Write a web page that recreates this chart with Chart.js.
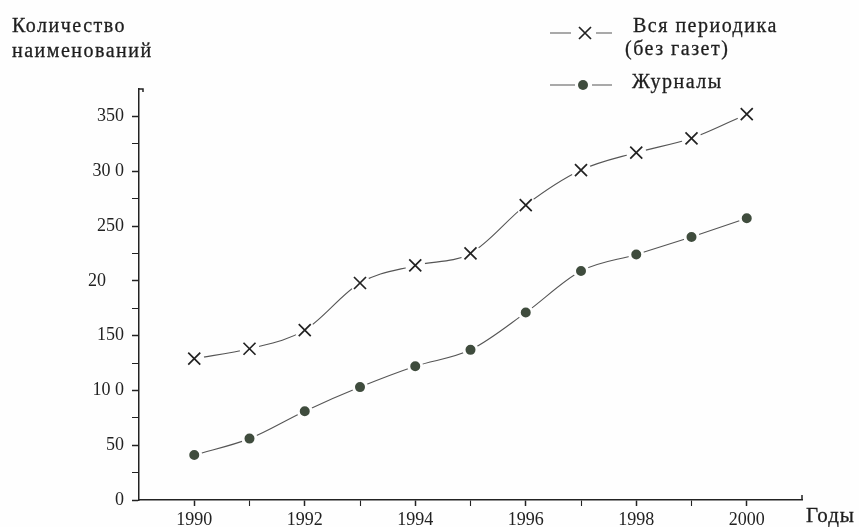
<!DOCTYPE html>
<html>
<head>
<meta charset="utf-8">
<script src="https://cdn.jsdelivr.net/npm/chart.js@4.4.1/dist/chart.umd.min.js"></script>
<style>
    html, body { margin: 0; padding: 0; background: #fefefe; }
    #wrap { position: relative; width: 859px; height: 527px; font-family: "Liberation Serif", "DejaVu Serif", serif; color: #1e1e1e; }
    #chart { position: absolute; left: 0; top: 0; }
    .txt { position: absolute; white-space: nowrap; font-size: 20px; letter-spacing: 1.5px; line-height: 1; -webkit-text-stroke: 0.3px #1e1e1e; }
</style>
</head>
<body>
<div id="wrap">
    <canvas id="chart" width="859" height="527"></canvas>
    <div class="txt" style="left:12px; top:15px;">Количество</div>
    <div class="txt" style="left:12px; top:40px;">наименований</div>
    <div class="txt" style="left:633px; top:15px;">Вся периодика</div>
    <div class="txt" style="left:625px; top:38px;">(без газет)</div>
    <div class="txt" style="left:632px; top:71px;">Журналы</div>
    <div class="txt" style="left:806px; top:505px; font-size:21px; letter-spacing:1px;">Годы</div>
</div>
<script>
// Periodicals chart, 1990-2000

// Data
const years = [1990, 1991, 1992, 1993, 1994, 1995, 1996, 1997, 1998, 1999, 2000];
const allPeriodicals = [129, 138, 155, 198, 214, 225, 269, 301, 317, 330, 352];
const journals = [41, 56, 81, 103, 122, 137, 171, 209, 224, 240, 257];

// Tick labels as printed (kept as they appear in the source)
const yTickValues = [0, 50, 100, 150, 200, 250, 300, 350];
const yTickLabels = ['0', '50', '10 0', '150', '20\u2007\u2007', '250', '30 0', '350'];
const xTickValues = [1990, 1992, 1994, 1996, 1998, 2000];
const xTickLabels = ['1990', '1992', '1994', '1996', '1998', '2000'];

const toPoints = values => years.map((y, i) => ({ x: y, y: values[i] }));

const inkColor = '#222222';
const lineColor = '#555555';
const dotColor = '#3f4c3d';
const paper = '#fefefe';

// Axis decorations: hook at top of y axis, end tick on x axis, legend samples
const extrasPlugin = {
    id: 'extras',
    afterDraw(chart) {
        const ctx = chart.ctx;
        const area = chart.chartArea;
        ctx.save();
        ctx.strokeStyle = inkColor;
        ctx.lineWidth = 1.5;
        // top hook of y axis
        ctx.beginPath();
        ctx.moveTo(area.left, area.top);
        ctx.lineTo(area.left + 4, area.top);
        ctx.lineTo(area.left + 4, area.top + 3);
        ctx.stroke();
        // end tick of x axis
        ctx.beginPath();
        ctx.moveTo(area.right, area.bottom);
        ctx.lineTo(area.right, area.bottom - 5);
        ctx.stroke();

        // legend samples
        ctx.strokeStyle = lineColor;
        ctx.lineWidth = 1;
        ctx.beginPath();
        ctx.moveTo(550, 33); ctx.lineTo(571, 33);
        ctx.moveTo(596, 33); ctx.lineTo(612, 33);
        ctx.moveTo(550, 85); ctx.lineTo(575, 85);
        ctx.moveTo(592, 85); ctx.lineTo(612, 85);
        ctx.stroke();
        ctx.strokeStyle = inkColor;
        ctx.lineWidth = 1.7;
        ctx.beginPath();
        ctx.moveTo(579, 27); ctx.lineTo(591, 39);
        ctx.moveTo(591, 27); ctx.lineTo(579, 39);
        ctx.stroke();
        ctx.fillStyle = dotColor;
        ctx.beginPath();
        ctx.arc(583, 85, 5, 0, Math.PI * 2);
        ctx.fill();
        ctx.restore();
    }
};

const ctx = document.getElementById('chart');

new Chart(ctx.getContext('2d'), {
    type: 'line',
    data: {
        datasets: [
            // markers on top
            {
                label: 'Вся периодика (без газет)',
                data: toPoints(allPeriodicals),
                showLine: false,
                pointStyle: 'crossRot',
                pointRadius: 8.5,
                pointBorderColor: inkColor,
                pointBorderWidth: 1.7,
                order: 0
            },
            {
                label: 'Журналы',
                data: toPoints(journals),
                showLine: false,
                pointStyle: 'circle',
                pointRadius: 6.5,
                pointBackgroundColor: dotColor,
                pointBorderColor: paper,
                pointBorderWidth: 3,
                order: 0
            },
            // white halo behind the crosses
            {
                data: toPoints(allPeriodicals),
                showLine: false,
                pointStyle: 'circle',
                pointRadius: 10,
                pointBackgroundColor: paper,
                pointBorderWidth: 0,
                order: 1
            },
            // smooth connecting lines
            {
                data: toPoints(allPeriodicals),
                borderColor: lineColor,
                borderWidth: 1.1,
                pointRadius: 0,
                cubicInterpolationMode: 'monotone',
                order: 2
            },
            {
                data: toPoints(journals),
                borderColor: lineColor,
                borderWidth: 1.1,
                pointRadius: 0,
                cubicInterpolationMode: 'monotone',
                order: 2
            }
        ]
    },
    options: {
        responsive: false,
        animation: false,
        events: [],
        layout: { padding: { top: 89, right: 57, left: 0, bottom: 0 } },
        plugins: {
            legend: { display: false },
            tooltip: { enabled: false }
        },
        scales: {
            x: {
                type: 'linear',
                min: 1989,
                max: 2001,
                afterFit: scale => { scale.height = 27; },
                afterBuildTicks: scale => {
                    scale.ticks = [];
                    for (let v = 1990; v <= 2000; v++) scale.ticks.push({ value: v });
                },
                border: { display: true, color: inkColor, width: 1.5 },
                grid: {
                    drawOnChartArea: false,
                    drawTicks: true,
                    tickLength: 6,
                    tickColor: inkColor,
                    tickWidth: c => (c.tick && c.tick.value % 2 === 0 ? 1.5 : 1.1)
                },
                ticks: {
                    color: inkColor,
                    padding: 3,
                    maxRotation: 0,
                    autoSkip: false,
                    font: { family: '"Liberation Serif", serif', size: 18 },
                    callback: value => {
                        const i = xTickValues.indexOf(value);
                        return i >= 0 ? xTickLabels[i] : '';
                    }
                }
            },
            y: {
                min: 0,
                max: 375,
                afterFit: scale => { scale.width = 139; },
                afterBuildTicks: scale => {
                    scale.ticks = [];
                    for (let v = 0; v <= 350; v += 25) scale.ticks.push({ value: v });
                },
                border: { display: true, color: inkColor, width: 1.5 },
                grid: {
                    drawOnChartArea: false,
                    drawTicks: true,
                    tickLength: 7,
                    tickColor: inkColor,
                    tickWidth: c => (c.tick && c.tick.value % 50 === 0 ? 1.5 : 1)
                },
                ticks: {
                    color: inkColor,
                    padding: 8,
                    autoSkip: false,
                    font: { family: '"Liberation Serif", serif', size: 18 },
                    callback: value => {
                        const i = yTickValues.indexOf(value);
                        return i >= 0 ? yTickLabels[i] : '';
                    }
                }
            }
        }
    },
    plugins: [extrasPlugin]
});
</script>
</body>
</html>
